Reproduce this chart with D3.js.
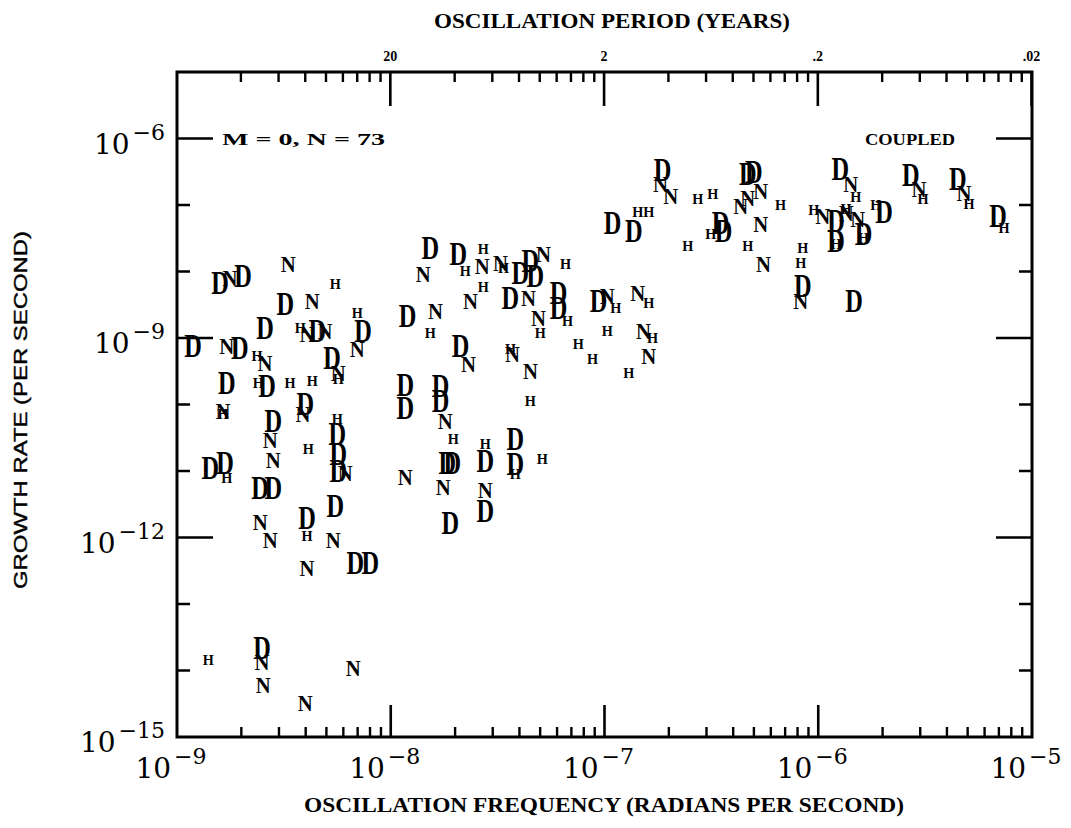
<!DOCTYPE html>
<html><head><meta charset="utf-8">
<script src="https://cdn.jsdelivr.net/npm/d3@7/dist/d3.min.js"></script>
<style>body{margin:0;background:#fff}svg{display:block}</style>
</head><body>
<svg id="chart" width="1071" height="828"></svg>
<script>
// ---------- data ----------
const xDecades = [1e-9, 1e-8, 1e-7, 1e-6, 1e-5];
const xDecadeLabels = ["\u22129", "\u22128", "\u22127", "\u22126", "\u22125"];
const yLabelled = [1e-15, 1e-12, 1e-9, 1e-6];
const yLabelledText = ["\u221215", "\u221212", "\u22129", "\u22126"];
const yDecades = [1e-15,1e-14,1e-13,1e-12,1e-11,1e-10,1e-9,1e-8,1e-7,1e-6,1e-5];
const periodMajorYears = [200, 20, 2, 0.2, 0.02];
const periodLabels = ["200", "20", "2", ".2", ".02"];
const secondsPerYear = 3.156e7;
const panelLabel = "M = 0, N = 73";
const caseLabel = "COUPLED";

// [oscillation frequency (rad/s), growth rate (1/s)]
const seriesD = [
  [1.87e-7,3.40e-7],[1.09e-7,5.26e-8],[1.37e-7,3.99e-8],[4.68e-7,2.96e-7],[4.99e-7,3.17e-7],
  [3.49e-7,5.26e-8],[3.61e-7,3.99e-8],[1.27e-6,3.52e-7],[2.71e-6,2.86e-7],[4.50e-6,2.49e-7],
  [6.93e-6,6.70e-8],[1.21e-6,5.64e-8],[1.21e-6,2.83e-8],[1.63e-6,3.60e-8],[2.03e-6,7.96e-8],
  [8.46e-7,5.98e-9],[1.47e-6,3.56e-9],[1.53e-8,2.22e-8],[2.07e-8,1.80e-8],[4.04e-8,9.37e-9],
  [4.50e-8,1.42e-8],[4.75e-8,8.45e-9],[3.63e-8,3.95e-9],[6.09e-8,4.70e-9],[6.09e-8,2.80e-9],
  [9.37e-8,3.56e-9],[1.59e-9,6.64e-9],[2.04e-9,8.45e-9],[3.21e-9,3.21e-9],[1.20e-8,2.12e-9],
  [2.58e-9,1.40e-9],[4.53e-9,1.26e-9],[7.43e-9,1.26e-9],[1.19e-9,7.53e-10],[1.97e-9,7.03e-10],
  [5.32e-9,4.98e-10],[2.12e-8,7.53e-10],[1.71e-9,2.10e-10],[2.64e-9,1.89e-10],[3.98e-9,1.02e-10],
  [1.17e-8,1.96e-10],[1.17e-8,8.87e-11],[1.71e-8,1.89e-10],[1.71e-8,1.13e-10],[2.82e-9,5.66e-11],
  [5.62e-9,3.61e-11],[5.68e-9,1.81e-11],[5.68e-9,1.01e-11],[1.43e-9,1.12e-11],[1.68e-9,1.33e-11],
  [2.45e-9,5.60e-12],[2.82e-9,5.60e-12],[1.84e-8,1.33e-11],[1.94e-8,1.33e-11],[1.90e-8,1.62e-12],
  [5.50e-9,3.01e-12],[4.06e-9,1.99e-12],[6.82e-9,4.06e-13],[8.02e-9,4.06e-13],[2.77e-8,1.42e-11],
  [2.77e-8,2.53e-12],[3.83e-8,3.04e-11],[3.83e-8,1.28e-11],[2.50e-9,2.16e-14]
];
const seriesN = [
  [1.83e-7,2.02e-7],[2.04e-7,1.34e-7],[4.68e-7,1.25e-7],[4.34e-7,9.47e-8],[5.38e-7,1.59e-7],
  [5.38e-7,5.08e-8],[5.55e-7,1.28e-8],[1.05e-6,6.70e-8],[1.35e-6,7.43e-8],[1.53e-6,6.04e-8],
  [1.42e-6,2.02e-7],[2.96e-6,1.70e-7],[4.80e-6,1.48e-7],[8.28e-7,3.56e-9],[2.68e-8,1.19e-8],
  [3.26e-8,1.32e-8],[5.18e-8,1.80e-8],[1.42e-8,9.05e-9],[2.36e-8,3.56e-9],[4.41e-8,3.95e-9],
  [4.91e-8,1.98e-9],[1.03e-7,4.24e-9],[1.43e-7,4.70e-9],[1.52e-7,1.26e-9],[1.61e-7,5.33e-10],
  [4.50e-8,3.18e-10],[3.71e-8,5.71e-10],[1.62e-8,2.52e-9],[2.31e-8,4.05e-10],[3.31e-9,1.28e-8],
  [1.77e-9,7.88e-9],[4.29e-9,3.56e-9],[4.06e-9,1.14e-9],[4.93e-9,1.26e-9],[1.71e-9,7.53e-10],
  [2.58e-9,4.19e-10],[6.97e-9,6.79e-10],[5.68e-9,2.97e-10],[3.89e-9,7.21e-11],[1.64e-9,8.00e-11],
  [1.80e-8,5.66e-11],[2.73e-9,2.84e-11],[2.82e-9,1.42e-11],[6.12e-9,9.08e-12],[1.17e-8,7.91e-12],
  [1.76e-8,5.60e-12],[2.77e-8,5.05e-12],[2.45e-9,1.67e-12],[2.73e-9,8.99e-13],[5.38e-9,8.99e-13],
  [4.06e-9,3.42e-13],[2.50e-9,1.33e-14],[2.53e-9,6.02e-15],[6.67e-9,1.08e-14],[3.98e-9,3.23e-15]
];
const seriesH = [
  [1.43e-7,7.96e-8],[1.61e-7,7.96e-8],[2.73e-7,1.21e-7],[3.21e-7,1.48e-7],[6.67e-7,1.01e-7],
  [3.14e-7,3.72e-8],[2.45e-7,2.38e-8],[4.68e-7,2.38e-8],[9.53e-7,8.53e-8],[1.35e-6,8.84e-8],
  [1.50e-6,1.34e-7],[3.09e-6,1.25e-7],[5.07e-6,1.05e-7],[1.86e-6,1.01e-7],[8.46e-7,2.22e-8],
  [8.28e-7,1.32e-8],[7.39e-6,4.43e-8],[1.21e-6,2.55e-8],[1.63e-6,3.24e-8],[2.71e-8,2.14e-8],
  [2.23e-8,1.00e-8],[3.37e-8,1.11e-8],[6.57e-8,1.28e-8],[2.71e-8,5.78e-9],[6.71e-8,1.79e-9],
  [5.01e-8,1.18e-9],[1.13e-7,2.80e-9],[1.61e-7,3.33e-9],[1.03e-7,1.26e-9],[1.68e-7,9.93e-10],
  [7.55e-8,8.07e-10],[8.79e-8,4.81e-10],[1.30e-7,2.97e-10],[4.50e-8,1.13e-10],[5.50e-9,6.41e-9],
  [6.97e-9,2.35e-9],[1.53e-8,1.18e-9],[3.77e-9,1.40e-9],[2.37e-9,5.33e-10],[2.40e-9,2.10e-10],
  [3.38e-9,2.10e-10],[4.29e-9,2.25e-10],[5.68e-9,2.41e-10],[1.96e-8,3.04e-11],[5.62e-9,6.07e-11],
  [4.11e-9,2.15e-11],[1.71e-9,7.91e-12],[2.77e-8,2.56e-11],[3.83e-8,9.08e-12],[5.12e-8,1.52e-11],
  [4.06e-9,1.07e-12],[1.40e-9,1.43e-14],[1.64e-9,7.21e-11],[3.63e-8,6.79e-10]
];
const seriesList = [
  {sym: "D", data: seriesD},
  {sym: "N", data: seriesN},
  {sym: "H", data: seriesH}
];

// ---------- drawing ----------
const svg = d3.select("#chart");
const L = 177, R = 1032, T = 72, B = 737;
const x = d3.scaleLog().domain([1e-9, 1e-5]).range([L, R]);
const y = d3.scaleLog().domain([1e-15, 1e-5]).range([B, T]);

function minorsOf(decades, lo, hi) {
  const out = [];
  decades.forEach(d => { for (let k = 2; k <= 9; k++) { const v = d * k; if (v > lo && v < hi) out.push(v); } });
  return out;
}

// power-of-ten labels
function powLabel(px, py, exp, anchor) {
  const t = svg.append("text").attr("x", px).attr("y", py).attr("text-anchor", anchor)
    .attr("fill", "#000").style("font-family", "'DejaVu Serif', serif").style("font-size", "28px");
  t.append("tspan").text("10");
  t.append("tspan").attr("dx", 3).attr("dy", -14).style("font-size", "22px").text(exp);
}
xDecades.forEach((v, i) => powLabel(x(v) - 6, 778, xDecadeLabels[i], "middle"));
yLabelled.forEach((v, i) => powLabel(165, y(v) + 15, yLabelledText[i], "end"));

// period labels
const omegaOf = p => 2 * Math.PI / (p * secondsPerYear);
const pMajor = periodMajorYears.map(omegaOf);
pMajor.forEach((v, i) => {
  if (v < 1e-9 || v > 1e-5) return;
  svg.append("text").attr("x", x(v)).attr("y", 61).attr("text-anchor", "middle")
    .attr("fill", "#000").style("font-family", "'Liberation Serif', serif").style("font-weight", "bold")
    .style("font-size", "14px").text(periodLabels[i]);
});

// titles
svg.append("text").attr("x", 612).attr("y", 28).attr("text-anchor", "middle")
  .attr("textLength", 356).attr("lengthAdjust", "spacingAndGlyphs")
  .attr("fill", "#000").style("font-family", "'Liberation Serif', serif").style("font-weight", "bold")
  .style("font-size", "20px").text("OSCILLATION PERIOD (YEARS)");
svg.append("text").attr("x", 604).attr("y", 812).attr("text-anchor", "middle")
  .attr("textLength", 600).attr("lengthAdjust", "spacingAndGlyphs")
  .attr("fill", "#000").style("font-family", "'Liberation Serif', serif").style("font-weight", "bold")
  .style("font-size", "20px").text("OSCILLATION FREQUENCY (RADIANS PER SECOND)");
svg.append("text").attr("transform", "translate(27,410) rotate(-90)").attr("text-anchor", "middle")
  .attr("textLength", 358).attr("lengthAdjust", "spacingAndGlyphs")
  .attr("fill", "#000").attr("stroke", "#000").attr("stroke-width", 0.4)
  .style("font-family", "'Liberation Sans', sans-serif").style("font-size", "19px")
  .text("GROWTH RATE (PER SECOND)");

// in-plot annotations
svg.append("text").attr("x", 222).attr("y", y(1e-6) + 6)
  .attr("textLength", 163).attr("lengthAdjust", "spacingAndGlyphs")
  .attr("fill", "#000").style("font-family", "'Liberation Serif', serif").style("font-weight", "bold").style("font-size", "17px")
  .text(panelLabel);
svg.append("text").attr("x", 955).attr("y", y(1e-6) + 6).attr("text-anchor", "end")
  .attr("textLength", 90).attr("lengthAdjust", "spacingAndGlyphs")
  .attr("fill", "#000").style("font-family", "'Liberation Serif', serif").style("font-weight", "bold").style("font-size", "16px")
  .text(caseLabel);

// symbols
const symStyle = {
  D: {size: 33, sx: 0.74},
  N: {size: 23, sx: 0.9},
  H: {size: 15, sx: 0.95}
};
seriesList.forEach(s => {
  const st = symStyle[s.sym];
  svg.append("g").selectAll("text").data(s.data).join("text")
    .attr("transform", d => `translate(${x(d[0])},${y(d[1])}) scale(${st.sx},1)`)
    .attr("dy", 0.331 * st.size)
    .attr("text-anchor", "middle")
    .attr("fill", "#000")
    .style("font-family", "'Liberation Serif', serif")
    .style("font-weight", "bold")
    .style("font-size", st.size + "px")
    .text(s.sym);
});

// ---------- ticks (one path per set, placed by the scales) and frame ----------
const tickLayer = svg.append("g").attr("class", "ticks");
function vTickPath(values, y0, len, dir, w) {
  const p = d3.path();
  values.forEach(v => { const px = x(v); p.moveTo(px, y0); p.lineTo(px, y0 + dir * len); });
  tickLayer.append("path").attr("d", p.toString()).attr("fill", "none")
    .attr("stroke", "#000").attr("stroke-width", w);
}
function hTickPath(values, x0, len, dir, w) {
  const p = d3.path();
  values.forEach(v => { const py = y(v); p.moveTo(x0, py); p.lineTo(x0 + dir * len, py); });
  tickLayer.append("path").attr("d", p.toString()).attr("fill", "none")
    .attr("stroke", "#000").attr("stroke-width", w);
}
const yMinor = yDecades.filter(v => !yLabelled.includes(v) && v > 1e-15 && v < 1e-5);
const yMajor = yLabelled.filter(v => v > 1e-15);
// right / left
hTickPath(yMinor, R, 13, -1, 2.4);
hTickPath(yMajor, R, 36, -1, 2.6);
hTickPath(yMinor, L, 13, 1, 2.4);
hTickPath(yMajor, L, 36, 1, 2.6);
// bottom axis (ticks pointing up)
vTickPath(minorsOf(xDecades, 1e-9, 1e-5), B, 10, -1, 2.4);
vTickPath(xDecades.slice(1, 4), B, 32, -1, 2.6);
// top axis: oscillation period in years
vTickPath(minorsOf(pMajor, 1e-9, 1e-5), T, 10, 1, 2.4);
vTickPath(pMajor.filter(v => v >= 1e-9 && v <= 1e-5), T, 34, 1, 2.6);
// frame
tickLayer.append("rect").attr("x", L).attr("y", T).attr("width", R - L).attr("height", B - T)
  .attr("fill", "none").attr("stroke", "#000").attr("stroke-width", 3);
</script>
</body></html>
